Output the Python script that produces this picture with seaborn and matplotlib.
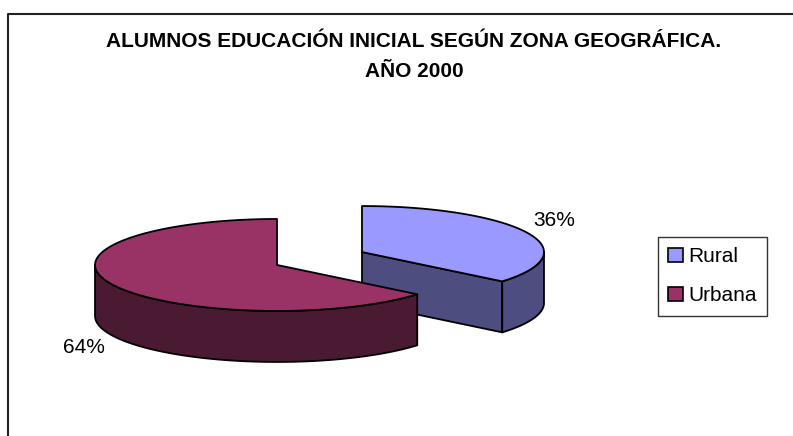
import numpy as np
import matplotlib.pyplot as plt
import seaborn as sns
from matplotlib.patches import Polygon, Rectangle
from matplotlib.lines import Line2D

# Datos
categorias = ['Rural', 'Urbana']
valores = [36, 64]
titulo = 'ALUMNOS EDUCACIÓN INICIAL SEGÚN ZONA GEOGRÁFICA.\nAÑO 2000'

# Colores estilo Excel (cara superior y lateral sombreada)
colores_sup = ['#9999FF', '#993366']
colores_lado = ['#4D4D80', '#4A1A33']

sns.set_theme(style='white')
plt.rcParams['font.family'] = ['Liberation Sans', 'DejaVu Sans']
plt.rcParams['text.color'] = 'black'

fig = plt.figure(figsize=(7.93, 4.36), dpi=100)
ax = fig.add_axes([0, 0, 1, 1])
ax.set_xlim(0, 793)
ax.set_ylim(436, 0)
ax.axis('off')

# Geometria del pastel 3D (en pixeles)
cx, cy = 319.5, 258.5
rx, ry, prof = 182, 46, 51
exp_x, exp_y = 0.258, 0.33
lab_x, lab_y = 1.17, 1.6


def punto(c, ang, dz=0.0):
    a = np.radians(ang)
    return c[0] + rx * np.sin(a), c[1] - ry * np.cos(a) + dz


def arco(c, a1, a2, dz=0.0, n=80):
    angs = np.linspace(a1, a2, n)
    return [punto(c, a, dz) for a in angs]


# angulos acumulados (en grados, sentido horario desde arriba)
total = sum(valores)
limites = np.concatenate([[0], np.cumsum(valores) / total * 360])

ec = dict(edgecolor='black', linewidth=1.3, joinstyle='round')
for i, cat in enumerate(categorias):
    a1, a2 = limites[i], limites[i + 1]
    m = np.radians((a1 + a2) / 2)
    c = (cx + exp_x * rx * np.sin(m), cy - exp_y * ry * np.cos(m))

    # caras radiales visibles
    for ang, phi in [(a1, a1 - 90), (a2, a2 + 90)]:
        if np.cos(np.radians(phi)) < -1e-6:
            p = punto(c, ang)
            cara = [c, p, (p[0], p[1] + prof), (c[0], c[1] + prof)]
            ax.add_patch(Polygon(cara, closed=True, facecolor=colores_lado[i], **ec))

    # lateral curvo visible (parte frontal 90..270)
    b1, b2 = max(a1, 90), min(a2, 270)
    if b2 > b1:
        lado = arco(c, b1, b2) + arco(c, b2, b1, prof)
        ax.add_patch(Polygon(lado, closed=True, facecolor=colores_lado[i], **ec))

    # cara superior
    sup = [c] + arco(c, a1, a2)
    ax.add_patch(Polygon(sup, closed=True, facecolor=colores_sup[i], **ec))

    # etiqueta de porcentaje
    dz = prof if np.cos(m) < 0 else 0
    tx = c[0] + lab_x * rx * np.sin(m)
    ty = c[1] - lab_y * ry * np.cos(m) + dz
    ax.text(tx, ty, f'{valores[i] / total:.0%}', ha='center', va='center', fontsize=15)

# Titulo
ax.text(414, 32, titulo, ha='center', va='top', fontsize=15, fontweight='bold',
        linespacing=1.75)

# Marco del grafico (solo arriba e izquierda visibles)
ax.add_line(Line2D([8, 8, 793], [436, 14, 14], color='#222222', linewidth=1.5))

# Leyenda
handles = [Rectangle((0, 0), 1, 1, facecolor=colores_sup[i], edgecolor='black', linewidth=1.2)
           for i in range(len(categorias))]
leg = ax.legend(handles, categorias, loc='upper left', bbox_to_anchor=(658 / 793, 1 - 237 / 436),
                fontsize=15, frameon=True, fancybox=False, handlelength=0.7, handleheight=0.7,
                handletextpad=0.25, labelspacing=0.95, borderpad=0.5, borderaxespad=0,
                labelcolor='black')
leg.get_frame().set_edgecolor('black')
leg.get_frame().set_linewidth(1.0)

fig.savefig('out.png', dpi=100)
